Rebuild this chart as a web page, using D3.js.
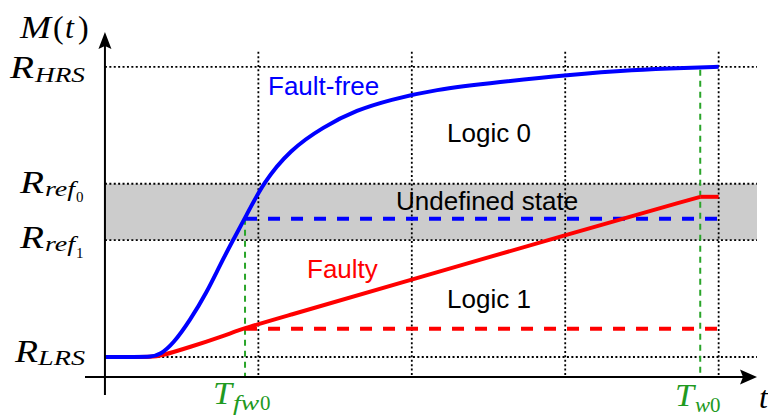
<!DOCTYPE html>
<html>
<head>
<meta charset="utf-8">
<script src="https://cdn.jsdelivr.net/npm/d3@7"></script>
<style>
  html, body { margin: 0; padding: 0; background: #fff; }
  svg { display: block; }
</style>
</head>
<body>
<script>
// Memristance M(t) while writing logic 0: fault-free cell vs. faulty cell.

// Resistance levels (normalised: R_LRS = 0, R_HRS = 1)
const levelNames = ["LRS", "ref1", "ref0", "HRS"];
const levelValues = [0, 0.403, 0.597, 1];

// Time grid (dotted verticals) and the marked instants
const gridTimes = [1, 2, 3, 4];
const tFw0 = 0.913;
const tW0 = 3.88;
const tEnd = 4;

// Fault-free write: flat at R_LRS, then sigmoid rise up to R_HRS
const faultFreeT = [0, 0.2, 0.3, 0.36, 0.444, 0.554, 0.665, 0.750, 0.835, 0.913, 1.031, 1.207, 1.422, 1.644, 1.859, 2.140, 2.577, 3.014, 3.444, 3.8, 4.0];
const faultFreeM = [0, 0, 0, 0.008, 0.045, 0.126, 0.224, 0.317, 0.403, 0.479, 0.600, 0.714, 0.793, 0.852, 0.886, 0.921, 0.948, 0.972, 0.990, 0.997, 1.0];

// Faulty write: slow ramp, then held once the pulse ends at T_w0
const faultyT = [0, 0.2, 0.3, 0.36, 0.554, 0.770, 0.913, 1.096, 2, 3, 3.88];
const faultyM = [0, 0, 0, 0.003, 0.034, 0.072, 0.100, 0.128, 0.267, 0.420, 0.552];
const faultyHoldT = [3.88, 4];
const faultyHoldM = [0.552, 0.552];

// States reached if the pulse were cut at T_fw0
const heldT = [tFw0, tEnd];
const faultFreeHeldM = [0.476, 0.476];
const faultyHeldM = [0.097, 0.097];
const faultFreeAtTw0 = 0.99;

const W = 768, H = 419;
const svg = d3.select("body").append("svg").attr("width", W).attr("height", H);

const x = d3.scaleLinear().domain([-0.13, 4.25]).range([85, 757]);
const y = d3.scaleLinear().domain([-0.069, 1.12]).range([377, 32]);

const lvl = name => levelValues[levelNames.indexOf(name)];
const zip = (ts, ms) => ts.map((t, i) => [t, ms[i]]);

const tMin = 0, tMax = 4.25, mAxis = -0.069, mGridTop = 1.052;

// Undefined-state band
svg.append("rect")
  .attr("x", x(tMin)).attr("y", y(lvl("ref0")))
  .attr("width", x(tMax) - x(tMin))
  .attr("height", y(lvl("ref1")) - y(lvl("ref0")))
  .attr("fill", "#cccccc");

const dotted = { stroke: "#000", width: 1.8, dash: "2 2.4" };

// Horizontal dotted level lines
svg.append("g").selectAll("line").data(levelValues).join("line")
  .attr("x1", x(tMin)).attr("x2", x(tMax))
  .attr("y1", d => y(d)).attr("y2", d => y(d))
  .attr("stroke", dotted.stroke).attr("stroke-width", dotted.width)
  .attr("stroke-dasharray", dotted.dash);

// Vertical dotted time grid
svg.append("g").selectAll("line").data(gridTimes).join("line")
  .attr("x1", d => x(d)).attr("x2", d => x(d))
  .attr("y1", y(mGridTop)).attr("y2", y(mAxis))
  .attr("stroke", dotted.stroke).attr("stroke-width", dotted.width)
  .attr("stroke-dasharray", dotted.dash);

// Green dashed markers at T_fw0 and T_w0
const greenLine = "#2aa52a";
svg.append("g").selectAll("line")
  .data([[tFw0, faultFreeHeldM[0]], [tW0, faultFreeAtTw0]]).join("line")
  .attr("x1", d => x(d[0])).attr("x2", d => x(d[0]))
  .attr("y1", d => y(d[1])).attr("y2", y(mAxis))
  .attr("stroke", greenLine).attr("stroke-width", 2)
  .attr("stroke-dasharray", "6 5");

// Text annotations
const sans = "'Liberation Sans', Arial, Helvetica, sans-serif";
const notes = [
  { text: "Fault-free", x: 268, y: 95, color: "#0000ff" },
  { text: "Logic 0", x: 447, y: 142, color: "#000" },
  { text: "Undefined state", x: 396, y: 210, color: "#000" },
  { text: "Faulty", x: 307, y: 278, color: "#ff0000" },
  { text: "Logic 1", x: 447, y: 308, color: "#000" }
];
svg.append("g").selectAll("text").data(notes).join("text")
  .attr("x", d => d.x).attr("y", d => d.y)
  .attr("fill", d => d.color)
  .attr("font-family", sans).attr("font-size", 26)
  .text(d => d.text);

const line = d3.line().x(d => x(d[0])).y(d => y(d[1]));
const smooth = d3.line().x(d => x(d[0])).y(d => y(d[1])).curve(d3.curveBasis);

// Held-state dashed lines
svg.append("path").datum(zip(heldT, faultFreeHeldM))
  .attr("d", line).attr("fill", "none")
  .attr("stroke", "#0000ff").attr("stroke-width", 4).attr("stroke-dasharray", "12 11");
svg.append("path").datum(zip(heldT, faultyHeldM))
  .attr("d", line).attr("fill", "none")
  .attr("stroke", "#ff0000").attr("stroke-width", 4).attr("stroke-dasharray", "12 11");

// Write curves
function drawCurve(ts, ms, color) {
  return svg.append("path").datum(zip(ts, ms)).attr("d", smooth)
    .attr("fill", "none").attr("stroke", color).attr("stroke-width", 4)
    .attr("stroke-linejoin", "round");
}
drawCurve(faultyT, faultyM, "#ff0000");
svg.append("path").datum(zip(faultyHoldT, faultyHoldM)).attr("d", line)
  .attr("fill", "none").attr("stroke", "#ff0000").attr("stroke-width", 4);
drawCurve(faultFreeT, faultFreeM, "#0000ff");

// Axes with arrowheads
const axisG = svg.append("g").attr("stroke", "#000").attr("stroke-width", 2);
axisG.append("line")
  .attr("x1", x(-0.13)).attr("x2", x(tMax) - 8)
  .attr("y1", y(mAxis)).attr("y2", y(mAxis));
axisG.append("line")
  .attr("x1", x(0)).attr("x2", x(0))
  .attr("y1", y(-0.131)).attr("y2", y(1.12) + 8);
svg.append("path")
  .attr("d", `M${x(tMax)},${y(mAxis)} l-17,-7.5 l3,7.5 l-3,7.5 Z`)
  .attr("fill", "#000");
svg.append("path")
  .attr("d", `M${x(0)},${y(1.12)} l-6.5,17 l6.5,-3 l6.5,3 Z`)
  .attr("fill", "#000");

// Math labels
const serif = "'Liberation Serif', 'Times New Roman', serif";
function mathLabel(parts, color) {
  const g = svg.append("g").attr("fill", color || "#000").attr("font-family", serif);
  parts.forEach(p => {
    const t = g.append("text")
      .attr("x", p.x).attr("y", p.y)
      .attr("font-size", p.size)
      .attr("font-style", p.upright ? "normal" : "italic")
      .text(p.s);
    if (p.len) t.attr("textLength", p.len).attr("lengthAdjust", "spacingAndGlyphs");
  });
}

mathLabel([
  { s: "M", x: 20, y: 38, size: 32, len: 31 },
  { s: "(", x: 53, y: 38, size: 32, upright: true },
  { s: "t", x: 65, y: 38, size: 32 },
  { s: ")", x: 78, y: 38, size: 32, upright: true }
]);
mathLabel([
  { s: "R", x: 10, y: 78, size: 32, len: 24 },
  { s: "HRS", x: 35, y: 82, size: 21, len: 50 }
]);
mathLabel([
  { s: "R", x: 20, y: 193, size: 32, len: 24 },
  { s: "ref", x: 45, y: 196, size: 21, len: 30 },
  { s: "0", x: 76, y: 202, size: 15, upright: true }
]);
mathLabel([
  { s: "R", x: 20, y: 248, size: 32, len: 24 },
  { s: "ref", x: 45, y: 251, size: 21, len: 30 },
  { s: "1", x: 76, y: 258, size: 15, upright: true }
]);
mathLabel([
  { s: "R", x: 15, y: 362, size: 32, len: 23 },
  { s: "LRS", x: 38, y: 365, size: 21, len: 47 }
]);
const greenText = "#1f9a1f";
mathLabel([
  { s: "T", x: 213, y: 404, size: 31, len: 19 },
  { s: "fw", x: 233, y: 410, size: 21, len: 26 },
  { s: "0", x: 260, y: 410, size: 21, upright: true }
], greenText);
mathLabel([
  { s: "T", x: 675, y: 406, size: 31, len: 19 },
  { s: "w", x: 695, y: 412, size: 21, len: 15 },
  { s: "0", x: 710, y: 412, size: 21, upright: true }
], greenText);
mathLabel([
  { s: "t", x: 759, y: 408, size: 32 }
]);
</script>
</body>
</html>
